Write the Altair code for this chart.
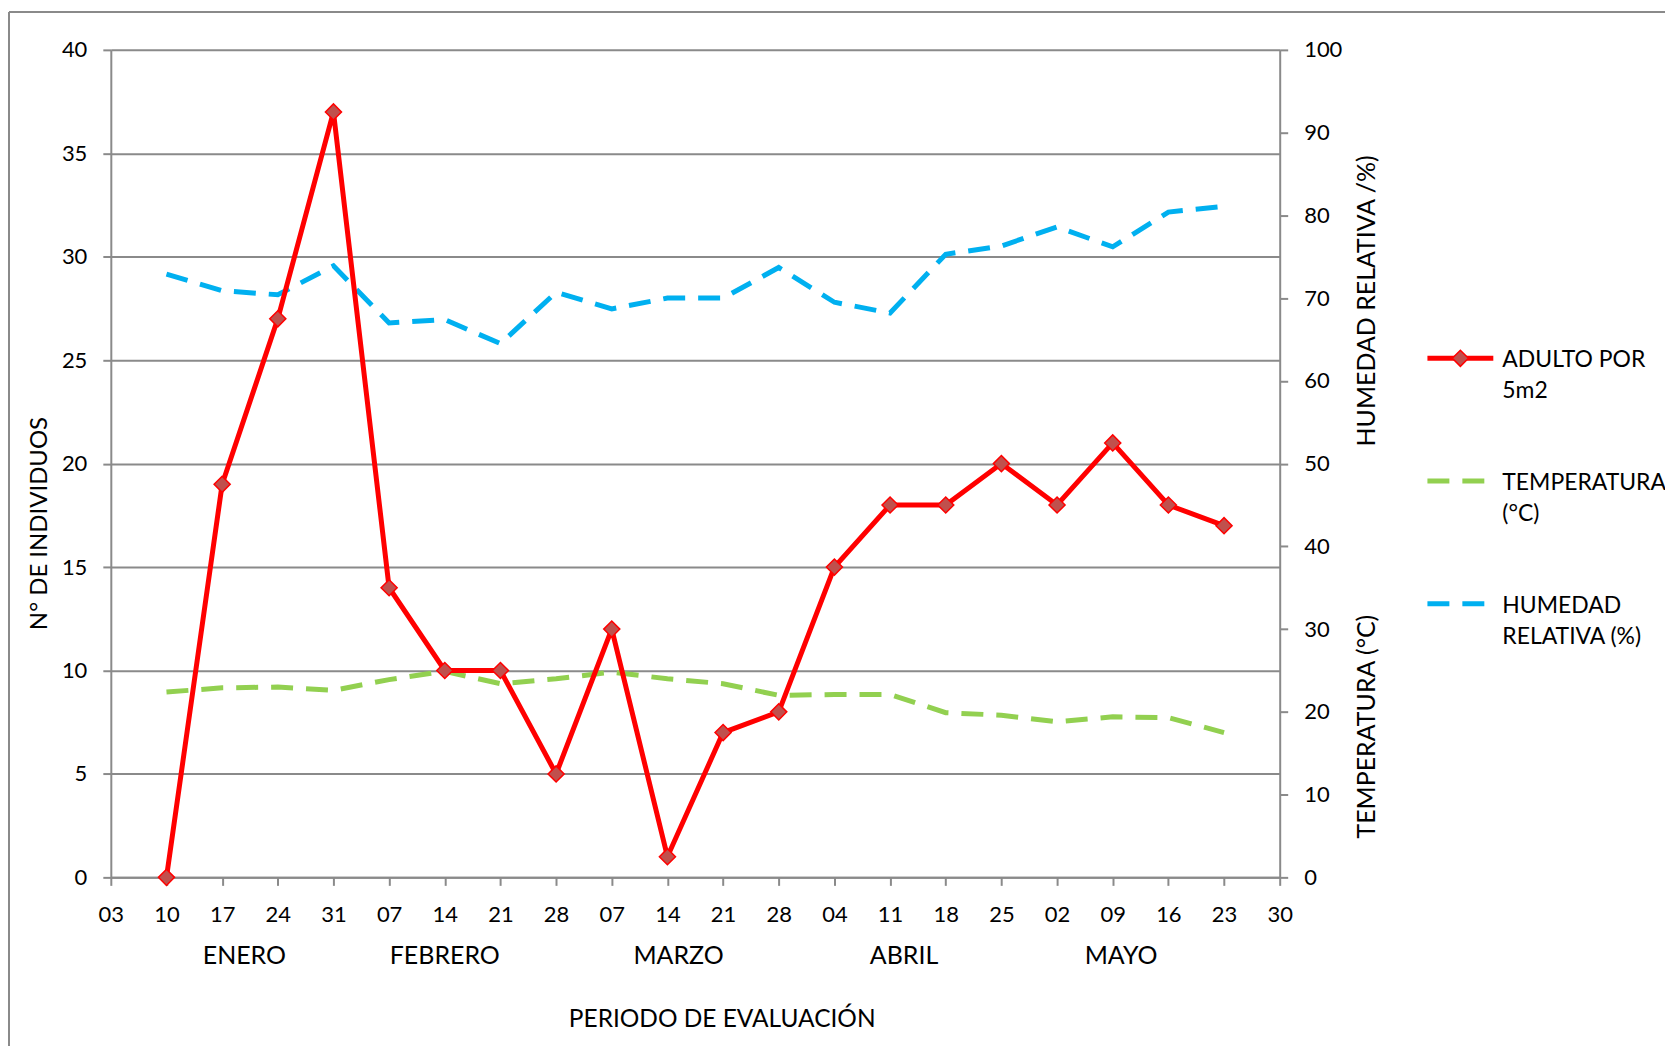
import altair as alt
import pandas as pd

# ---- data ----
tick_labels = ["03", "10", "17", "24", "31", "07", "14", "21", "28", "07", "14",
               "21", "28", "04", "11", "18", "25", "02", "09", "16", "23", "30"]
point_idx = list(range(1, 21))
adultos = [0, 19, 27, 37, 14, 10, 10, 5, 12, 1, 7, 8, 15, 18, 18, 20, 18, 21, 18, 17]
temperatura = [22.4, 22.9, 23.0, 22.6, 23.9, 24.9, 23.4, 24.0, 24.8, 24.0, 23.4,
               22.0, 22.1, 22.1, 19.9, 19.6, 18.8, 19.4, 19.3, 17.5]
humedad = [72.9, 70.9, 70.4, 73.9, 67.0, 67.4, 64.5, 70.7, 68.7, 70.0, 70.0,
           73.7, 69.5, 68.2, 75.3, 76.3, 78.6, 76.2, 80.4, 81.1]
meses = ["ENERO", "FEBRERO", "MARZO", "ABRIL", "MAYO"]
mes_pos = [2.4, 6.0, 10.2, 14.25, 18.15]

W, H = 1171, 829
GRAY = "#8a8a8a"
RED = "#FF0000"
RED_FILL = "#C0504D"
BLUE = "#00B0F0"
GREEN = "#92D050"
FONT = "Lato"
DASH = [22, 13]

df = pd.DataFrame({"idx": point_idx, "adult": adultos, "temp": temperatura, "hum": humedad})
df_mes = pd.DataFrame({"mes": meses, "idx": mes_pos})

label_expr = "[" + ",".join(f"'{t}'" for t in tick_labels) + "][datum.value]"

x_enc = alt.X(
    "idx:Q",
    scale=alt.Scale(domain=[0, len(tick_labels) - 1], nice=False, zero=False),
    axis=alt.Axis(
        values=list(range(len(tick_labels))),
        labelExpr=label_expr,
        labelFlush=False,
        labelOverlap=False,
        grid=False,
        tickSize=8,
        labelFontSize=22,
        labelPadding=19,
        title="PERIODO DE EVALUACIÓN",
        titleFontSize=24.5,
        titleX=612,
        titleY=142,
        titleAlign="center",
        titleBaseline="middle",
    ),
)

base = alt.Chart(df)

# right axis series (humidity & temperature), shared 0-100 scale
right = base.transform_fold(["hum", "temp"], as_=["serie", "valor"]).mark_line(
    strokeWidth=5, strokeDash=DASH
).encode(
    x=x_enc,
    y=alt.Y(
        "valor:Q",
        scale=alt.Scale(domain=[0, 100], nice=False),
        axis=alt.Axis(
            orient="right",
            values=list(range(0, 101, 10)),
            grid=False,
            tickSize=8,
            labelFontSize=22,
            labelPadding=16,
            title="HUMEDAD RELATIVA /%)",
            titleFontSize=25,
            titleAngle=270,
            titleX=87,
            titleY=251,
            titleAlign="center",
            titleBaseline="middle",
        ),
    ),
    color=alt.Color("serie:N", scale=alt.Scale(domain=["hum", "temp"], range=[BLUE, GREEN]), legend=None),
    detail="serie:N",
)

y_left = alt.Y(
    "adult:Q",
    scale=alt.Scale(domain=[0, 40], nice=False),
    axis=alt.Axis(
        orient="left",
        values=list(range(0, 41, 5)),
        grid=True,
        tickSize=8,
        labelFontSize=22,
        labelPadding=16,
        title="N° DE INDIVIDUOS",
        titleFontSize=24,
        titleAngle=270,
        titleX=-71,
        titleY=474,
        titleAlign="center",
        titleBaseline="middle",
    ),
)

red_line = base.mark_line(color=RED, strokeWidth=5).encode(x=x_enc, y=y_left)
red_pts = base.mark_point(
    shape="diamond", filled=True, fill=RED_FILL, stroke=RED, strokeWidth=1.5, size=260, opacity=1
).encode(x=x_enc, y=y_left)

left = alt.layer(red_line, red_pts)

# month labels under the axis
month_text = alt.Chart(df_mes).mark_text(
    font=FONT, fontSize=25, baseline="middle", align="center", color="black"
).encode(
    x=x_enc,
    y=alt.value(908),
    text="mes:N",
)

one = pd.DataFrame({"k": [0]})

# secondary right title
temp_title = alt.Chart(one).mark_text(
    font=FONT, fontSize=25, angle=270, align="center", baseline="middle", color="black"
).encode(x=alt.value(1258), y=alt.value(678), text=alt.value("TEMPERATURA (°C)"))

# legend
legend_items = [
    ("ADULTO POR", "5m2", RED, None),
    ("TEMPERATURA", "(°C)", GREEN, DASH),
    ("HUMEDAD", "RELATIVA (%)", BLUE, DASH),
]
legend_rows_y = [309, 432, 555]
legend_layers = []
for (l1, l2, col, dash), yy in zip(legend_items, legend_rows_y):
    kw = dict(color=col, strokeWidth=5)
    if dash is not None:
        kw["strokeDash"] = dash
    legend_layers.append(
        alt.Chart(one).mark_rule(**kw).encode(x=alt.value(1319), x2=alt.value(1385), y=alt.value(yy))
    )
    if dash is None:
        legend_layers.append(
            alt.Chart(one).mark_point(
                shape="diamond", filled=True, fill=RED_FILL, stroke=RED, strokeWidth=1.5, size=260, opacity=1
            ).encode(x=alt.value(1352), y=alt.value(yy))
        )
    legend_layers.append(
        alt.Chart(one).mark_text(font=FONT, fontSize=23, align="left", baseline="middle", color="black")
        .encode(x=alt.value(1394), y=alt.value(yy + 2), text=alt.value(l1))
    )
    legend_layers.append(
        alt.Chart(one).mark_text(font=FONT, fontSize=23, align="left", baseline="middle", color="black")
        .encode(x=alt.value(1394), y=alt.value(yy + 33), text=alt.value(l2))
    )

# outer chart frame (left & top edges)
frame_v = alt.Chart(one).mark_rule(color=GRAY, strokeWidth=2).encode(
    x=alt.value(-102), y=alt.value(-38), y2=alt.value(1000)
)
frame_h = alt.Chart(one).mark_rule(color=GRAY, strokeWidth=2).encode(
    x=alt.value(-102), x2=alt.value(1600), y=alt.value(-38)
)

chart = alt.layer(
    right, left, month_text, temp_title, frame_v, frame_h, *legend_layers
).resolve_scale(y="independent").properties(
    width=W,
    height=H,
    autosize=alt.AutoSizeParams(type="none"),
    padding={"left": 103, "top": 41, "right": 386, "bottom": 168},
).configure_view(
    stroke=None
).configure_axis(
    labelFont=FONT,
    titleFont=FONT,
    labelColor="black",
    titleColor="black",
    titleFontWeight="normal",
    domainColor=GRAY,
    domainWidth=2,
    tickColor=GRAY,
    tickWidth=2,
    gridColor=GRAY,
    gridWidth=2,
)

chart.save("out.html", embed_options={"renderer": "svg", "actions": False})
